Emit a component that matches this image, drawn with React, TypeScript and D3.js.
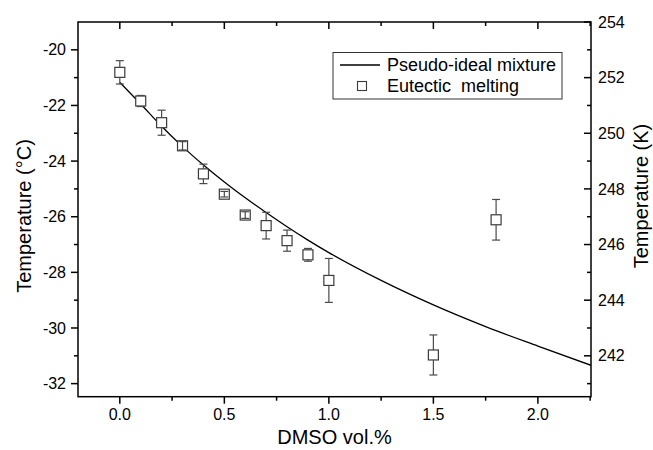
import React from 'react';
import * as d3 from 'd3';

// ---- data ----
const xDomain: [number, number] = [-0.2, 2.254];
const yDomainC: [number, number] = [-32.47, -19.0];
const kelvinOffset = 273;

const dmso = [0, 0.1, 0.2, 0.3, 0.4, 0.5, 0.6, 0.7, 0.8, 0.9, 1.0, 1.5, 1.8];
const tempC = [-20.81, -21.84, -22.62, -23.45, -24.46, -25.19, -25.94, -26.32, -26.86, -27.37, -28.29, -30.97, -26.11];
const tempErr = [0.42, 0.2, 0.45, 0.15, 0.35, 0.1, 0.12, 0.48, 0.38, 0.23, 0.79, 0.72, 0.73];

const curveX = [0, 0.1, 0.2, 0.3, 0.4, 0.5, 0.6, 0.7, 0.8, 0.9, 1.0, 1.25, 1.5, 1.75, 2.0, 2.254];
const curveC = [-21.17, -21.95, -22.75, -23.48, -24.14, -24.75, -25.32, -25.85, -26.36, -26.84, -27.29, -28.29, -29.17, -29.95, -30.65, -31.34];

const xMajor = [0, 0.5, 1.0, 1.5, 2.0];
const xMinor = [0.25, 0.75, 1.25, 1.75, 2.25];
const yMajorC = [-32, -30, -28, -26, -24, -22, -20];
const yMinorC = [-31, -29, -27, -25, -23, -21];
const yMajorK = [242, 244, 246, 248, 250, 252, 254];
const yMinorK = [241, 243, 245, 247, 249, 251, 253];

const legendLabels = ['Pseudo-ideal mixture', 'Eutectic  melting'];
const xTitle = 'DMSO vol.%';
const yTitleLeft = 'Temperature (°C)';
const yTitleRight = 'Temperature (K)';

// ---- layout ----
const W = 653;
const H = 450;
const L = 78;
const R = 591;
const T = 22;
const B = 396.7;
const FONT = '"Liberation Sans", Arial, Helvetica, sans-serif';

export default function App() {
  const x = d3.scaleLinear().domain(xDomain).range([L, R]);
  const y = d3.scaleLinear().domain(yDomainC).range([B, T]);
  const yK = d3.scaleLinear().domain([yDomainC[0] + kelvinOffset, yDomainC[1] + kelvinOffset]).range([B, T]);

  const line = d3
    .line<number>()
    .x((_, i) => x(curveX[i]))
    .y((d) => y(d))
    .curve(d3.curveMonotoneX);

  const ms = 10; // marker size
  const half = ms / 2;
  const cap = 4;
  const fmtX = d3.format('.1f');

  return (
    <svg
      width={W}
      height={H}
      style={{ position: 'absolute', left: 0, top: 0, background: '#fff' }}
      fontFamily={FONT}
    >
      <rect x={0} y={0} width={W} height={H} fill="#fff" />
      <defs>
        <clipPath id="plot">
          <rect x={L} y={T} width={R - L} height={B - T} />
        </clipPath>
      </defs>

      {/* curve */}
      <path d={line(curveC) || ''} fill="none" stroke="#000" strokeWidth={1.3} clipPath="url(#plot)" />

      {/* markers */}
      {dmso.map((d, i) => (
        <rect
          key={'m' + i}
          x={x(d) - half}
          y={y(tempC[i]) - half}
          width={ms}
          height={ms}
          fill="#fff"
          stroke="#3a3a3a"
          strokeWidth={1.2}
        />
      ))}

      {/* error bars */}
      {dmso.map((d, i) => {
        const cx = x(d);
        const cy = y(tempC[i]);
        const top = y(tempC[i] + tempErr[i]);
        const bot = y(tempC[i] - tempErr[i]);
        return (
          <g key={'e' + i} stroke="#4a4a4a" strokeWidth={1.2}>
            {cy - top > half && <line x1={cx} x2={cx} y1={cy - half} y2={top} />}
            {bot - cy > half && <line x1={cx} x2={cx} y1={cy + half} y2={bot} />}
            {cy - top <= half && <line x1={cx} x2={cx} y1={top} y2={bot} />}
            <line x1={cx - cap} x2={cx + cap} y1={top} y2={top} />
            <line x1={cx - cap} x2={cx + cap} y1={bot} y2={bot} />
          </g>
        );
      })}

      {/* frame */}
      <rect x={L} y={T} width={R - L} height={B - T} fill="none" stroke="#000" strokeWidth={1.5} />

      {/* bottom axis ticks (out) and top ticks (in) */}
      <g stroke="#000" strokeWidth={1.5}>
        {xMajor.map((v) => (
          <g key={'xM' + v}>
            <line x1={x(v)} x2={x(v)} y1={B} y2={B + 7} />
            <line x1={x(v)} x2={x(v)} y1={T} y2={T + 7} />
          </g>
        ))}
        {xMinor.map((v) => (
          <g key={'xm' + v}>
            <line x1={x(v)} x2={x(v)} y1={B} y2={B + 4} />
            <line x1={x(v)} x2={x(v)} y1={T} y2={T + 4} />
          </g>
        ))}
        {yMajorC.map((v) => (
          <line key={'yM' + v} x1={L - 7} x2={L} y1={y(v)} y2={y(v)} />
        ))}
        {yMinorC.map((v) => (
          <line key={'ym' + v} x1={L - 4} x2={L} y1={y(v)} y2={y(v)} />
        ))}
        {yMajorK.map((v) => (
          <line key={'kM' + v} x1={R - 7} x2={R} y1={yK(v)} y2={yK(v)} />
        ))}
        {yMinorK.map((v) => (
          <line key={'km' + v} x1={R - 4} x2={R} y1={yK(v)} y2={yK(v)} />
        ))}
      </g>

      {/* tick labels */}
      <g fontSize={16} fill="#000">
        {xMajor.map((v) => (
          <text key={'xl' + v} x={x(v)} y={420} textAnchor="middle">
            {fmtX(v)}
          </text>
        ))}
        {yMajorC.map((v) => (
          <text key={'yl' + v} x={66} y={y(v)} dy="0.35em" textAnchor="end">
            {v}
          </text>
        ))}
        {yMajorK.map((v) => (
          <text key={'kl' + v} x={598} y={yK(v)} dy="0.35em" textAnchor="start">
            {v}
          </text>
        ))}
      </g>

      {/* axis titles */}
      <g fontSize={20} fill="#000">
        <text x={(L + R) / 2} y={444} textAnchor="middle">
          {xTitle}
        </text>
        <text transform={`translate(31, 216) rotate(-90)`} textAnchor="middle">
          {yTitleLeft}
        </text>
        <text transform={`translate(648, 196) rotate(-90)`} textAnchor="middle">
          {yTitleRight}
        </text>
      </g>

      {/* legend */}
      <g>
        <rect x={333} y={52.5} width={229} height={46.5} fill="#fff" stroke="#333" strokeWidth={1} />
        <line x1={340} x2={380} y1={65} y2={65} stroke="#000" strokeWidth={1.3} />
        <rect x={357.5} y={81.5} width={9} height={9} fill="#fff" stroke="#3a3a3a" strokeWidth={1.1} />
        <text x={387} y={71} fontSize={18} fill="#000">
          {legendLabels[0]}
        </text>
        <text x={387} y={92} fontSize={18} fill="#000" style={{ whiteSpace: 'pre' }}>
          {legendLabels[1]}
        </text>
      </g>
    </svg>
  );
}
